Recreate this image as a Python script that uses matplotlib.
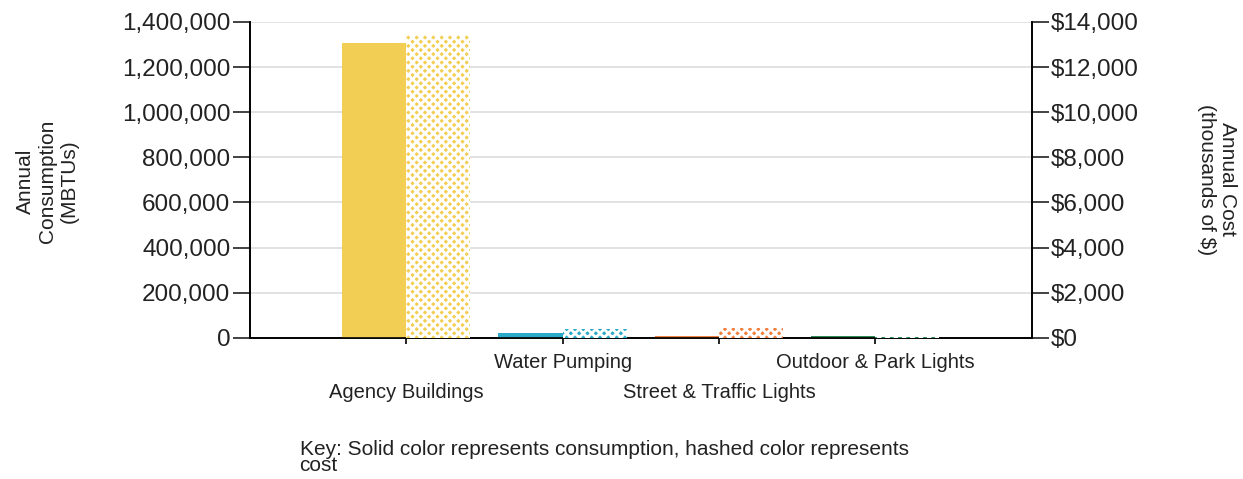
import matplotlib.pyplot as plt
from matplotlib.ticker import FuncFormatter

plt.rcParams['font.family'] = ['Liberation Sans', 'DejaVu Sans']
plt.rcParams['hatch.linewidth'] = 2.0

categories = ["Agency Buildings", "Water Pumping", "Street & Traffic Lights", "Outdoor & Park Lights"]
consumption = [1307000, 20000, 9000, 9000]   # MBTUs
cost = [13420, 410, 430, 60]                   # thousands of $
colors = ["#F2CE55", "#2AAAC8", "#F08040", "#2E8B57"]

fig = plt.figure(figsize=(12.43, 4.79), dpi=100)
ax = fig.add_axes([0.201, 0.2944, 0.629, 0.66])
ax2 = ax.twinx()

xs = [i for i in range(1, len(categories) + 1)]
w = 0.41
ax.bar([x - w / 2 for x in xs], consumption, width=w, color=colors, linewidth=0, zorder=3)
for x, c, col in zip(xs, cost, colors):
    ax2.bar(x + w / 2, c, width=w, facecolor=col, edgecolor="white", hatch="xxxx",
            linewidth=0, zorder=3)

ax.set_xlim(0, 5)
ax.set_ylim(0, 1400000)
ax2.set_ylim(0, 14000)
ax.set_yticks(range(0, 1400001, 200000))
ax2.set_yticks(range(0, 14001, 2000))
ax.yaxis.set_major_formatter(FuncFormatter(lambda v, p: f"{int(v):,}"))
ax2.yaxis.set_major_formatter(FuncFormatter(lambda v, p: f"${int(v):,}"))
ax.grid(axis="y", color="#DDDDDD", linewidth=1.2, zorder=0)
ax.set_axisbelow(True)

# staggered category labels (alternating rows)
ax.set_xticks(xs)
ax.set_xticklabels([])
tr = ax.get_xaxis_transform()
for i, (x, c) in enumerate(zip(xs, categories)):
    yrow = -0.171 if i % 2 == 0 else -0.076
    ax.text(x, yrow, c, transform=tr, ha="center", va="center", fontsize=14.5, color="#222222")

for a in (ax, ax2):
    a.spines["top"].set_visible(False)
    a.tick_params(axis="y", labelsize=17.5, length=12, width=1.2, pad=2, colors="#222222")
    for s in ("left", "right", "bottom"):
        a.spines[s].set_linewidth(1.2)
ax.tick_params(axis="x", length=4, width=1.2)

fig.text(0.038, 0.622, "Annual\nConsumption\n(MBTUs)", rotation=90, ha="center", va="center",
         fontsize=15, linespacing=1.2, color="#222222")
fig.text(0.979, 0.626, "Annual Cost\n(thousands of $)", rotation=-90, ha="center", va="center",
         fontsize=15, linespacing=1.1, color="#222222")
fig.text(0.241, 0.082, "Key: Solid color represents consumption, hashed color represents\ncost",
         ha="left", va="top", fontsize=15, linespacing=0.85, color="#222222")

fig.savefig("out.png", dpi=100)
